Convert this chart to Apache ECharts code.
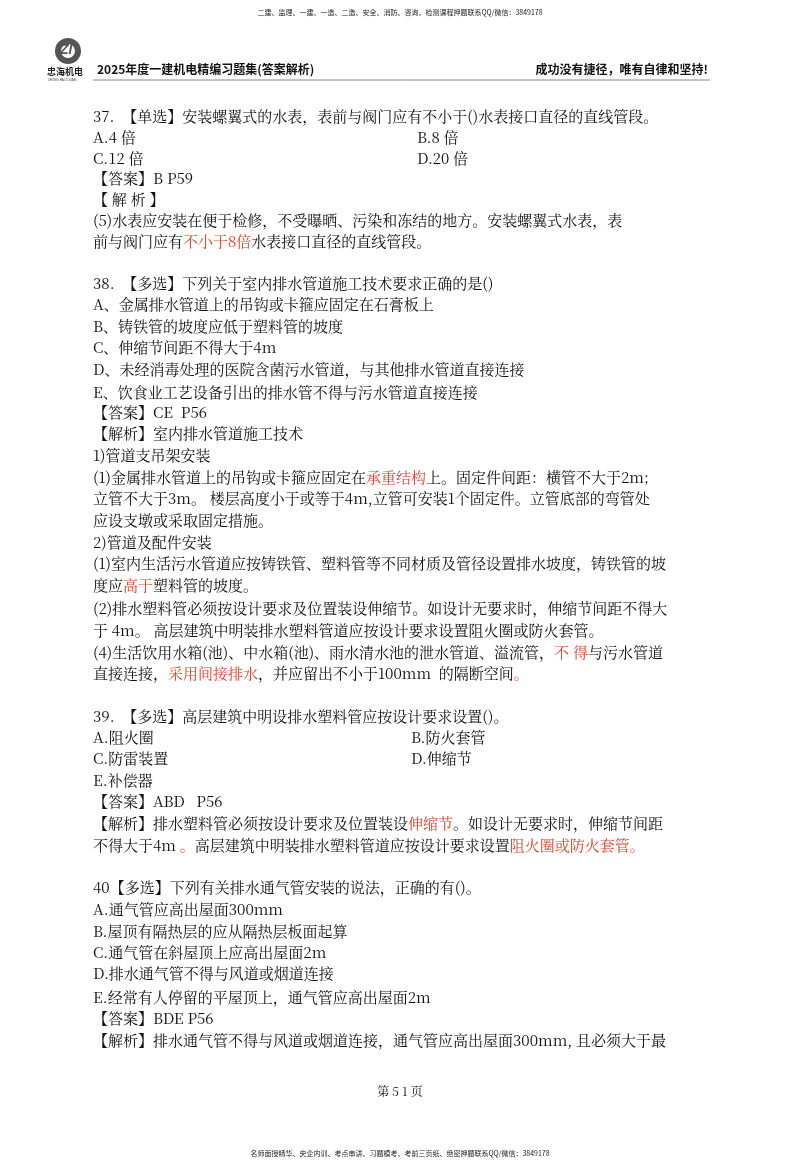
<!DOCTYPE html>
<html><head><meta charset="utf-8">
<script src="https://cdn.jsdelivr.net/npm/echarts@6/dist/echarts.min.js"></script>
<style>html,body{margin:0;padding:0;background:#fff}#c{width:800px;height:1168px}</style>
</head><body><div id="c"></div>
<script>
const headerTop = "二建、监理、一建、一造、二造、安全、消防、咨询、检测课程押题联系QQ/微信：3849178";
const footerBottom = "名师面授精华、央企内训、考点串讲、习题模考、考前三页纸、绝密押题联系QQ/微信：3849178";
const titleLeft = "2025年度一建机电精编习题集(答案解析)";
const titleRight = "成功没有捷径，唯有自律和坚持!";
const pageLabel = "第 5 1 页";
// [text, y, x]  ({r|...} = red)
const bodyLines = [
 ["37.  【单选】安装螺翼式的水表，表前与阀门应有不小于()水表接口直径的直线管段。",116,93],
 ["A.4 倍",137,93],["B.8 倍",137,417],
 ["C.12 倍",158,93],["D.20 倍",158,417],
 ["【答案】B P59",178,93],
 ["【 解 析 】",199,93],
 ["(5)水表应安装在便于检修，不受曝晒、污染和冻结的地方。安装螺翼式水表，表",220,93],
 ["前与阀门应有{r|不小于8倍}水表接口直径的直线管段。",241,93],
 ["38.  【多选】下列关于室内排水管道施工技术要求正确的是()",283,93],
 ["A、金属排水管道上的吊钩或卡箍应固定在石膏板上",304,93],
 ["B、铸铁管的坡度应低于塑料管的坡度",326,93],
 ["C、伸缩节间距不得大于4m",347,93],
 ["D、未经消毒处理的医院含菌污水管道，与其他排水管道直接连接",369,93],
 ["E、饮食业工艺设备引出的排水管不得与污水管道直接连接",392,93],
 ["【答案】CE  P56",412,93],
 ["【解析】室内排水管道施工技术",433,93],
 ["1)管道支吊架安装",455,93],
 ["(1)金属排水管道上的吊钩或卡箍应固定在{r|承重结构}上。固定件间距：横管不大于2m;",477,93],
 ["立管不大于3m。 楼层高度小于或等于4m,立管可安装1个固定件。立管底部的弯管处",498,93],
 ["应设支墩或采取固定措施。",520,93],
 ["2)管道及配件安装",542,93],
 ["(1)室内生活污水管道应按铸铁管、塑料管等不同材质及管径设置排水坡度，铸铁管的坡",563,93],
 ["度应{r|高于}塑料管的坡度。",585,93],
 ["(2)排水塑料管必须按设计要求及位置装设伸缩节。如设计无要求时，伸缩节间距不得大",608,93],
 ["于 4m。 高层建筑中明装排水塑料管道应按设计要求设置阻火圈或防火套管。",630,93],
 ["(4)生活饮用水箱(池)、中水箱(池)、雨水清水池的泄水管道、溢流管，{r|不 得}与污水管道",652,93],
 ["直接连接，{r|采用间接排水}，并应留出不小于100mm  的隔断空间{r|。}",673,93],
 ["39.  【多选】高层建筑中明设排水塑料管应按设计要求设置()。",716,93],
 ["A.阻火圈",737,93],["B.防火套管",737,411],
 ["C.防雷装置",758,93],["D.伸缩节",758,411],
 ["E.补偿器",780,93],
 ["【答案】ABD   P56",801,93],
 ["【解析】排水塑料管必须按设计要求及位置装设{r|伸缩节}。如设计无要求时，伸缩节间距",823,93],
 ["不得大于4m {r|。}高层建筑中明装排水塑料管道应按设计要求设置{r|阻火圈或防火套管。}",845,93],
 ["40【多选】下列有关排水通气管安装的说法，正确的有()。",887,93],
 ["A.通气管应高出屋面300mm",909,93],
 ["B.屋顶有隔热层的应从隔热层板面起算",931,93],
 ["C.通气管在斜屋顶上应高出屋面2m",952,93],
 ["D.排水通气管不得与风道或烟道连接",973,93],
 ["E.经常有人停留的平屋顶上，通气管应高出屋面2m",997,93],
 ["【答案】BDE P56",1018,93],
 ["【解析】排水通气管不得与风道或烟道连接，通气管应高出屋面300mm, 且必须大于最",1040,93]
];
const F = '"Noto Serif CJK SC","Noto Sans CJK SC",serif';
const FS = '15px ';
const els = [];
els.push({type:'text',left:'center',top:9,style:{text:headerTop,font:'7px "Noto Sans CJK SC"',fill:'#222'}});
els.push({type:'text',left:'center',top:1150,style:{text:footerBottom,font:'7px "Noto Sans CJK SC"',fill:'#222'}});
els.push({type:'ring',shape:{cx:68,cy:51,r:13,r0:7},style:{fill:'#555'}});
els.push({type:'text',x:60,y:43,style:{text:'Zl',font:'bold italic 14px sans-serif',fill:'#555'}});
els.push({type:'text',x:47,y:67,style:{text:'忠海机电',font:'bold 9px "Noto Sans CJK SC"',fill:'#222'}});
els.push({type:'text',x:48,y:79,style:{text:'ZHONG HAI JI DIAN',font:'3px sans-serif',fill:'#444'}});
els.push({type:'text',x:97,y:63,style:{text:titleLeft,font:'bold 12px "Noto Sans CJK SC"',fill:'#111'}});
els.push({type:'text',x:708,y:63,style:{text:titleRight,align:'right',font:'bold 12px "Noto Sans CJK SC"',fill:'#111'}});
els.push({type:'line',shape:{x1:93,y1:80,x2:710,y2:80},style:{stroke:'#888',lineWidth:1}});
bodyLines.forEach(([t,y,x])=>{
  els.push({type:'text',x:x,y:y,style:{text:t,verticalAlign:'middle',font:FS+F,fill:'#111',
    rich:{r:{fill:'#e8412a',font:FS+F,verticalAlign:'middle'}}}});
});
els.push({type:'text',left:'center',top:1085,style:{text:pageLabel,font:'12px '+F,fill:'#111'}});
const chart = echarts.init(document.getElementById('c'));
chart.setOption({backgroundColor:'#fff',graphic:{elements:els}});
</script></body></html>
